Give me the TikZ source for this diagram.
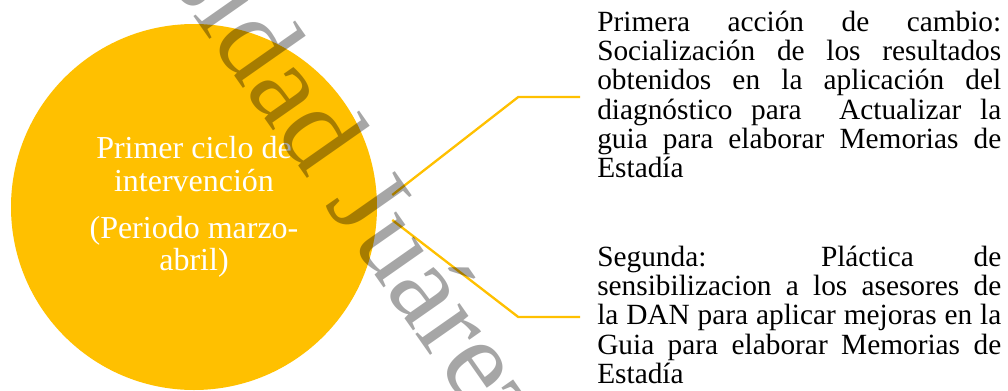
\documentclass[tikz,border=0pt]{standalone}
\usepackage{fontspec}
\setmainfont{Liberation Serif}
\definecolor{oro}{HTML}{FFC000}
\hyphenpenalty=10000
\tolerance=10000
\hbadness=10000

\begin{document}
\begin{tikzpicture}[x=0.75pt,y=-0.75pt,
        ciclo/.style={circle,fill=oro,minimum size=274.5pt,inner sep=0pt,text=white,align=center,font=\fontsize{24}{24.4}\selectfont},
        accion/.style={text width=303pt,inner sep=0pt,align=justify,anchor=base west,font=\fontsize{22}{22}\selectfont},
        enlace/.style={oro,line width=1.75pt},
        marca/.style={black,opacity=0.35,rotate=-55,anchor=base west,inner sep=0pt,font=\fontsize{88}{88}\selectfont}]
        \useasboundingbox (0,0) rectangle (1008,390);
        \clip (0,0) rectangle (1008,390);
        \node[ciclo] (ciclo) at (194,207) {Primer ciclo de\\intervención\\[11pt](Periodo marzo-\\abril)};
        \node[accion] (accion1) at (597,31) {Primera acción de cambio:\linebreak Socialización de los resultados\linebreak obtenidos en la aplicación del\linebreak diagnóstico para \ Actualizar la\linebreak guia para elaborar Memorias de\linebreak Estadía};
        \node[accion] (accion2) at (597,266) {Segunda: Pláctica de\linebreak sensibilizacion a los asesores de\linebreak la DAN para aplicar mejoras en la\linebreak Guia para elaborar Memorias de\linebreak Estadía};
        % lineas de enlace
        \coordinate (s1) at ([shift={(15,-12)}]ciclo.east);
        \coordinate (s2) at ([shift={(15,13)}]ciclo.east);
        \coordinate (e1) at ([shift={(-17,0)}]accion1.west |- 0,97);
        \coordinate (e2) at ([shift={(-17,0)}]accion2.west |- 0,317);
        \draw[enlace] (s1) -- ++(126,-98) -- (e1);
        \draw[enlace] (s2) -- ++(126,97) -- (e2);
        \node[marca] (marca) at (-21,-290) {Universidad Juárez Autónoma};
\end{tikzpicture}
\end{document}
